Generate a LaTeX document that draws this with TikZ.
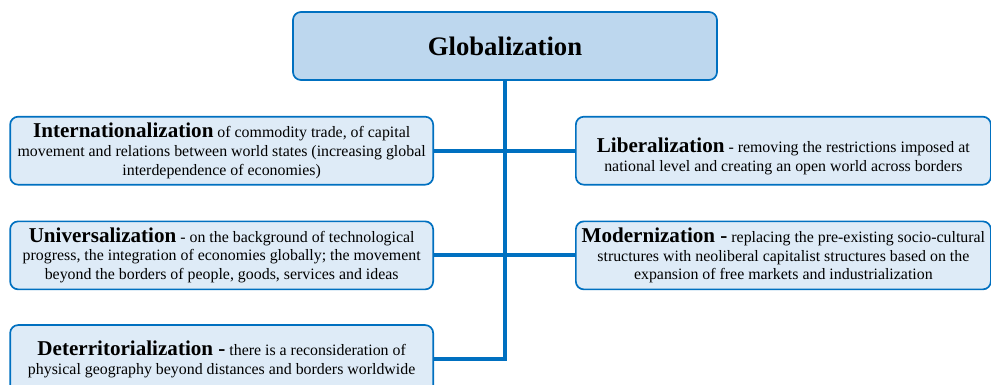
\documentclass[tikz,border=0pt]{standalone}
\usepackage{fontspec}
\setmainfont{Liberation Serif}
\usepackage{tikz}
\usetikzlibrary{ calc, positioning }
\definecolor{linkblue}{HTML}{0070C0}
\definecolor{topfill}{HTML}{BDD7EE}
\definecolor{leaffill}{HTML}{DEEBF7}
\newcommand{\head}[1]{{\fontsize{15}{17}\selectfont\bfseries #1}}
\tikzset{
box/.style={draw=linkblue, line width=1.2pt, rounded corners=0.2cm,
  minimum height=1.7cm, align=center, inner sep=1pt,
  font=\fontsize{11.3}{13.5}\selectfont}, % common look of every box
topbox/.style={box, fill=topfill, minimum width=10.6cm,
  font=\fontsize{19}{22}\selectfont\bfseries},
leftbox/.style={box, fill=leaffill, minimum width=10.575cm},
rightbox/.style={box, fill=leaffill, minimum width=10.375cm},
link/.style={draw=linkblue, line width=2.8pt}, % thick connectors
}

\begin{document}
\begin{tikzpicture}
  \useasboundingbox (0,0) rectangle (24.775,-9.6);

  % Top ---------------------------------
  \node[topbox] (glob) at (12.625,-1.15) {Globalization};

  % Left column -------------------------
  \node[leftbox, anchor=north east] (intern) at ($(glob.south)+(-1.775,-0.875)$)
    {\head{Internationalization} of commodity trade, of capital\\
     movement and relations between world states (increasing global\\
     interdependence of economies)};
  \node[leftbox, below=0.875cm of intern] (univ)
    {\head{Universalization} - on the background of technological\\
     progress, the integration of economies globally; the movement\\
     beyond the borders of people, goods, services and ideas};
  \node[leftbox, below=0.85cm of univ] (deterr)
    {\head{Deterritorialization -} there is a reconsideration of\\
     physical geography beyond distances and borders worldwide};

  % Right column ------------------------
  \node[rightbox, right=3.525cm of intern] (lib)
    {\rule{0pt}{0.67cm}\head{Liberalization} - removing the restrictions imposed at\\
     national level and creating an open world across borders};
  \node[rightbox, right=3.525cm of univ] (mod)
    {\head{Modernization -} replacing the pre-existing socio-cultural\\
     structures with neoliberal capitalist structures based on the\\
     expansion of free markets and industrialization};

  % Connectors
  \draw[link] (glob) |- (deterr);
  \path[link]
  (intern) edge (lib)
  (univ) edge (mod) ;
\end{tikzpicture}
\end{document}
